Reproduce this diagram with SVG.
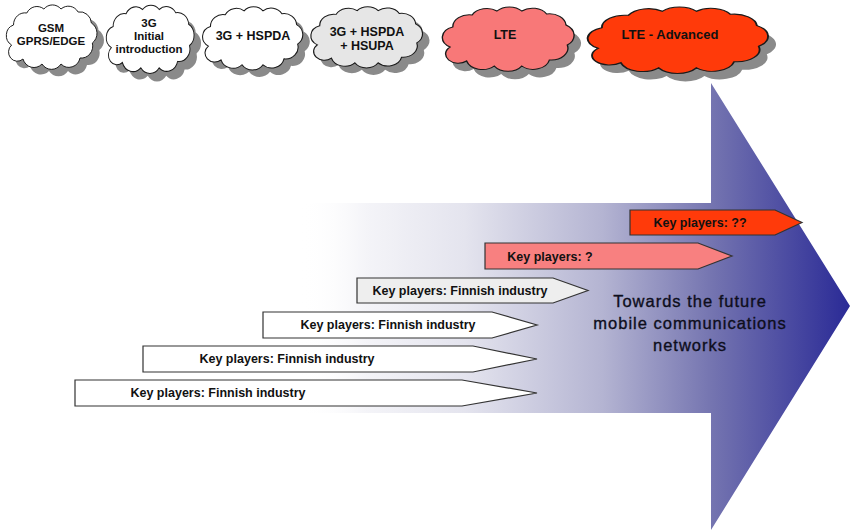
<svg xmlns="http://www.w3.org/2000/svg" xmlns:xlink="http://www.w3.org/1999/xlink" width="850" height="530" viewBox="0 0 850 530">
<style>
text{font-family:"Liberation Sans",Arial,sans-serif;font-weight:bold;fill:#111;text-anchor:middle}
.cl{stroke:#1a1a1a;stroke-width:1;vector-effect:non-scaling-stroke}
.sh{fill:#8a8a8a;stroke:none}
.bar{stroke:#333;stroke-width:1.2}
.ct{font-size:11.5px}
.bt{font-size:12.5px}
.tw{font-weight:normal;font-size:16.5px;letter-spacing:1px;fill:#0e0e1c;stroke:#0e0e1c;stroke-width:0.35}
</style>
<defs>
<linearGradient id="ag" gradientUnits="userSpaceOnUse" x1="300" y1="0" x2="850" y2="0">
<stop offset="0" stop-color="#ffffff" stop-opacity="0"/>
<stop offset="0.12" stop-color="#f4f4f8"/>
<stop offset="0.3" stop-color="#e4e4ee"/>
<stop offset="0.55" stop-color="#b4b4d2"/>
<stop offset="0.75" stop-color="#7474b0"/>
<stop offset="1" stop-color="#2a2a96"/>
</linearGradient>
<path id="cloud" d="M8,44 A11,11 0 0 1 10,24 A12,12 0 0 1 24,12 A12,12 0 0 1 42,8 A12,12 0 0 1 60,8 A12,12 0 0 1 78,11 A12,12 0 0 1 92,22 A12,12 0 0 1 93,42 A12,12 0 0 1 80,57 A12,12 0 0 1 60,63 A12,12 0 0 1 40,63 A12,12 0 0 1 20,58 A9,9 0 0 1 8,44 Z"/>
</defs>
<rect width="850" height="530" fill="#ffffff"/>
<g id="big-arrow">
<polygon points="300,203 711,203 711,83 850,306 711,530 711,413 300,413" fill="url(#ag)"/>
<text class="tw" x="690" y="307">Towards the future</text>
<text class="tw" x="690" y="329">mobile communications</text>
<text class="tw" x="690" y="351">networks</text>
</g>
<g id="cloud-gsm">
<use xlink:href="#cloud" class="sh" transform="translate(11,8) scale(0.95,1)"/>
<use xlink:href="#cloud" class="cl" fill="#ffffff" transform="translate(4,1) scale(0.95,1)"/>
<text class="ct" x="51" y="32">GSM</text>
<text class="ct" x="51" y="45">GPRS/EDGE</text>
</g>
<g id="cloud-3g">
<use xlink:href="#cloud" class="sh" transform="translate(111,9) scale(0.92,1.06)"/>
<use xlink:href="#cloud" class="cl" fill="#ffffff" transform="translate(104,1) scale(0.92,1.06)"/>
<text class="ct" x="149" y="27">3G</text>
<text class="ct" x="149" y="40">Initial</text>
<text class="ct" x="149" y="53">introduction</text>
</g>
<g id="cloud-hspda">
<use xlink:href="#cloud" class="sh" transform="translate(207,10) scale(1.05,0.98)"/>
<use xlink:href="#cloud" class="cl" fill="#ffffff" transform="translate(200,3) scale(1.05,0.98)"/>
<text class="ct" x="253" y="40" style="font-size:12.5px">3G + HSPDA</text>
</g>
<g id="cloud-hsupa">
<use xlink:href="#cloud" class="sh" transform="translate(315,10) scale(1.17,0.95)"/>
<use xlink:href="#cloud" class="cl" fill="#e6e6e6" transform="translate(308,3) scale(1.17,0.95)"/>
<text class="ct" x="367" y="36" style="font-size:12.5px">3G + HSPDA</text>
<text class="ct" x="367" y="50" style="font-size:12.5px">+ HSUPA</text>
</g>
<g id="cloud-lte">
<use xlink:href="#cloud" class="sh" transform="translate(446,11) scale(1.38,1)"/>
<use xlink:href="#cloud" class="cl" fill="#f87878" transform="translate(439,3) scale(1.38,1)"/>
<text class="ct" x="505" y="39" style="font-size:12.5px">LTE</text>
</g>
<g id="cloud-lte-adv">
<use xlink:href="#cloud" class="sh" transform="translate(591,11) scale(1.89,1.03)"/>
<use xlink:href="#cloud" class="cl" fill="#ff3a0a" transform="translate(583,3) scale(1.89,1.03)"/>
<text class="ct" x="670" y="39" style="font-size:13px">LTE - Advanced</text>
</g>
<g id="bar-1">
<path class="bar" d="M630,210 H775 L802,222.5 L775,235 H630 Z" fill="#ff3a0a" stroke="#5a1010"/>
<text class="bt" x="700" y="227">Key players: ??</text>
</g>
<g id="bar-2">
<path class="bar" d="M485,243 H698 L732,256 L698,269 H485 Z" fill="#f88080"/>
<text class="bt" x="550" y="261">Key players: ?</text>
</g>
<g id="bar-3">
<path class="bar" d="M357,278 H553 L588,290.5 L553,303 H357 Z" fill="#eeeeee"/>
<text class="bt" x="460" y="295">Key players: Finnish industry</text>
</g>
<g id="bar-4">
<path class="bar" d="M263,312 H492 L537,325 L492,338 H263 Z" fill="#ffffff"/>
<text class="bt" x="388" y="329">Key players: Finnish industry</text>
</g>
<g id="bar-5">
<path class="bar" d="M143,346 H473 L537,359 L473,372 H143 Z" fill="#ffffff"/>
<text class="bt" x="287" y="363">Key players: Finnish industry</text>
</g>
<g id="bar-6">
<path class="bar" d="M75,380 H462 L537,393 L462,406 H75 Z" fill="#ffffff"/>
<text class="bt" x="218" y="397">Key players: Finnish industry</text>
</g>
<g id="connectors"/>
</svg>
